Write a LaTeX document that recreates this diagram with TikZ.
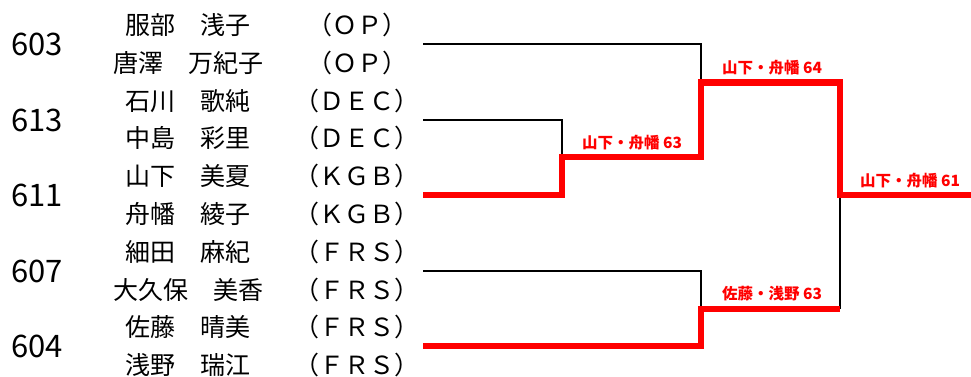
\documentclass[tikz,border=0pt]{standalone}
\usepackage{fontspec}
\setmainfont{Noto Sans CJK JP}
\begin{document}
\begin{tikzpicture}[x=1pt,y=-1pt]
\tikzstyle{bango}=[font=\fontsize{31}{34}\selectfont,inner sep=0pt]
\tikzstyle{namae}=[font=\fontsize{25}{28}\selectfont,inner sep=0pt]
\tikzstyle{kumi}=[font=\fontsize{25}{28}\selectfont,inner sep=0pt]
\tikzstyle{makesen}=[draw=black,line width=2pt]
\tikzstyle{kachisen}=[draw=red,line width=6.5pt]
\tikzstyle{kekka}=[text=red,font=\fontsize{15.5}{17}\selectfont\bfseries,anchor=base,inner sep=0pt]
\useasboundingbox (0,0) rectangle (971,376);
\node[bango] (t603) at (37,44) {603};
\node[bango] (t613) at (37,120) {613};
\node[bango] (t611) at (37,195) {611};
\node[bango] (t607) at (37,271) {607};
\node[bango] (t604) at (37,346) {604};
\node[namae] (n1) at (188,25) {服部　浅子};
\node[namae] (n2) at (188,62.8) {唐澤　万紀子};
\node[namae] (n3) at (188,100.6) {石川　歌純};
\node[namae] (n4) at (188,138.4) {中島　彩里};
\node[namae] (n5) at (188,176.2) {山下　美夏};
\node[namae] (n6) at (188,214) {舟幡　綾子};
\node[namae] (n7) at (188,251.8) {細田　麻紀};
\node[namae] (n8) at (188,289.6) {大久保　美香};
\node[namae] (n9) at (188,327.4) {佐藤　晴美};
\node[namae] (n10) at (188,365.2) {浅野　瑞江};
\node[kumi] (g1) at (357,25) {（ＯＰ）};
\node[kumi] (g2) at (357,62.8) {（ＯＰ）};
\node[kumi] (g3) at (357,100.6) {（ＤＥＣ）};
\node[kumi] (g4) at (357,138.4) {（ＤＥＣ）};
\node[kumi] (g5) at (357,176.2) {（ＫＧＢ）};
\node[kumi] (g6) at (357,214) {（ＫＧＢ）};
\node[kumi] (g7) at (357,251.8) {（ＦＲＳ）};
\node[kumi] (g8) at (357,289.6) {（ＦＲＳ）};
\node[kumi] (g9) at (357,327.4) {（ＦＲＳ）};
\node[kumi] (g10) at (357,365.2) {（ＦＲＳ）};
\coordinate (s603) at (423,44);
\coordinate (s613) at (423,120);
\coordinate (s611) at (423,195);
\coordinate (s607) at (423,271);
\coordinate (s604) at (423,346);
\coordinate (k1) at (562,157);
\coordinate (k2) at (701,82.5);
\coordinate (k3) at (840,195);
\coordinate (k4) at (701,309);
\coordinate (k5) at (840,309);
\coordinate (yusho) at (971,195);
\draw[makesen] (s603) -| (k2);
\draw[makesen] (s613) -| (k1);
\draw[makesen] (s607) -| (k4);
\draw[makesen] (k3) -- (k5);
\draw[kachisen] (s611) -| (k1) -| (k2) -| (k3) -- (yusho);
\draw[kachisen] (s604) -| (k4) -- (k5);
\node[kekka] (m1) at (632,148.5) {山下・舟幡 63};
\node[kekka] (m2) at (772,73.5) {山下・舟幡 64};
\node[kekka] (m3) at (910,186.5) {山下・舟幡 61};
\node[kekka] (m4) at (772,299.5) {佐藤・浅野 63};
\end{tikzpicture}
\end{document}
